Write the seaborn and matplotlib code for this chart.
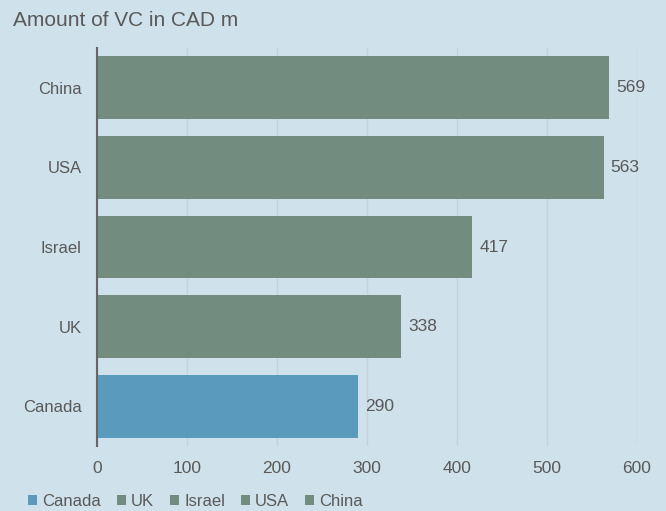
import matplotlib
matplotlib.use("Agg")
import matplotlib.pyplot as plt
import seaborn as sns
import pandas as pd
from matplotlib.patches import Patch

countries = ["China", "USA", "Israel", "UK", "Canada"]
values = [569, 563, 417, 338, 290]
legend_order = ["Canada", "UK", "Israel", "USA", "China"]
title = "Amount of VC in CAD m"

BG = "#cfe1ea"
GREEN = "#728c80"
BLUE = "#5a9abd"
TXT = "#595959"

sns.set_theme(style="white")
plt.rcParams["font.family"] = ["Liberation Sans", "DejaVu Sans"]

df = pd.DataFrame({"country": countries, "value": values})
palette = {c: (BLUE if c == "Canada" else GREEN) for c in countries}

fig = plt.figure(figsize=(6.66, 5.11), dpi=100, facecolor=BG)
ax = fig.add_axes([97/666, 1-446/511, (637-97)/666, (446-48)/511])
ax.set_facecolor(BG)

sns.barplot(data=df, x="value", y="country", hue="country", order=countries,
            palette=palette, width=0.79, legend=False, ax=ax, saturation=1,
            edgecolor="none", linewidth=0)

for cont in ax.containers:
    ax.bar_label(cont, fmt="%d", padding=5, fontsize=12.5, color=TXT)

ax.set_xlim(0, 600)
ax.set_ylim(4.5, -0.5)
ax.set_xticks([0, 100, 200, 300, 400, 500, 600])
ax.xaxis.grid(True, color="#c2d3dc", linewidth=1)
ax.set_axisbelow(True)
for s in ["top", "right", "bottom"]:
    ax.spines[s].set_visible(False)
ax.spines["left"].set_color("#666666")
ax.spines["left"].set_linewidth(1.5)
ax.tick_params(axis="x", length=0, pad=11, labelsize=12.5, labelcolor=TXT)
ax.tick_params(axis="y", length=0, pad=11, labelsize=12, labelcolor=TXT)
ax.set_xlabel("")
ax.set_ylabel("")

fig.text(13/666, 1-21/511, title, fontsize=15, color=TXT, va="center", ha="left")

handles = [Patch(facecolor=palette[c], edgecolor="none", label=c) for c in legend_order]
fig.legend(handles=handles, loc="center left", bbox_to_anchor=(28/666, 10/511), ncol=5,
           frameon=False, fontsize=12, handlelength=0.55, handleheight=0.55,
           handletextpad=0.3, columnspacing=0.95, labelcolor=TXT,
           borderaxespad=0, borderpad=0)

fig.savefig("out.png", dpi=100, facecolor=BG)
